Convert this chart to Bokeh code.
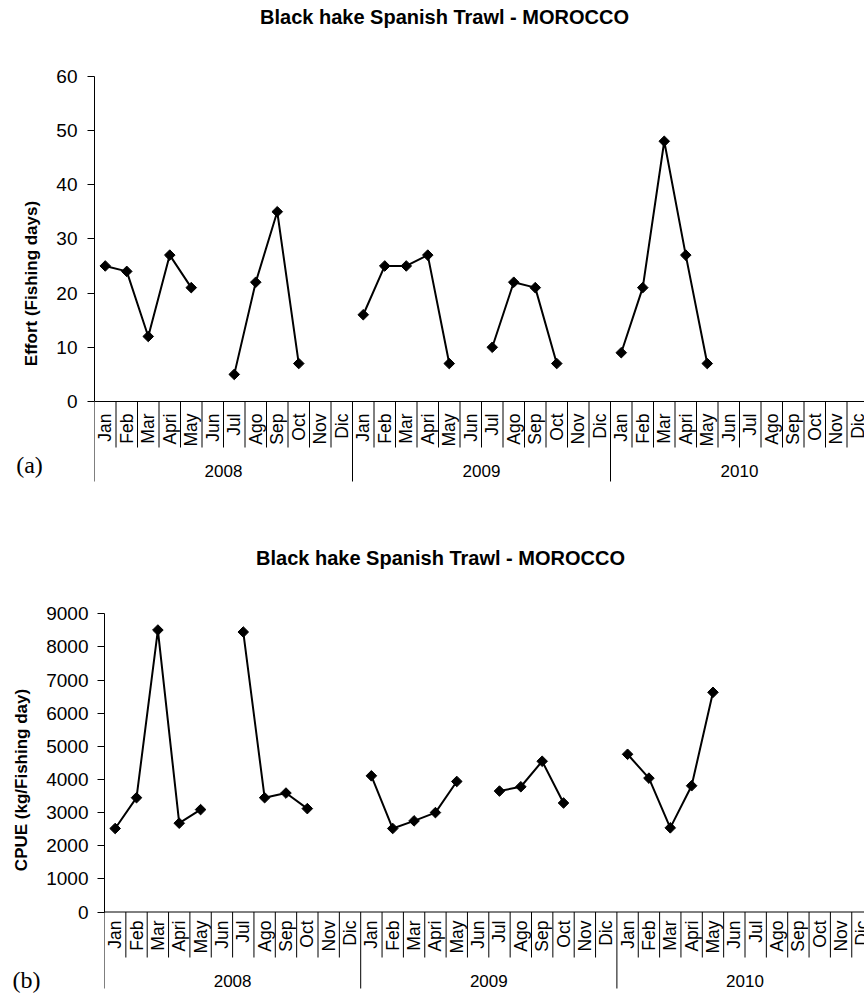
import math
import numpy as np
from bokeh.plotting import figure
from bokeh.models import FixedTicker, Label, Span
from bokeh.embed import file_html
from bokeh.resources import INLINE
from bokeh.core.properties import value

# ---------------- data ----------------
months = ["Jan", "Feb", "Mar", "Apri", "May", "Jun", "Jul", "Ago", "Sep", "Oct", "Nov", "Dic"]
years = ["2008", "2009", "2010"]
chart_title = "Black hake Spanish Trawl - MOROCCO"

effort_2008 = [25, 24, 12, 27, 21, None, 5, 22, 35, 7, None, None]
effort_2009 = [16, 25, 25, 27, 7, None, 10, 22, 21, 7, None, None]
effort_2010 = [9, 21, 48, 27, 7, None, None, None, None, None, None, None]

cpue_2008 = [2520, 3450, 8510, 2680, 3090, None, 8450, 3450, 3590, 3120, None, None]
cpue_2009 = [4110, 2520, 2750, 3000, 3940, None, 3650, 3780, 4550, 3290, None, None]
cpue_2010 = [4760, 4040, 2540, 3810, 6630, None, None, None, None, None, None, None]

effort_ticks = [0, 10, 20, 30, 40, 50, 60]
cpue_ticks = [0, 1000, 2000, 3000, 4000, 5000, 6000, 7000, 8000, 9000]

FONT = "Liberation Sans"
SERIF = "Liberation Serif"
W = 864
TOP = 70  # fixed top border holding the title and the panel tag


def make_chart(vals, ticks, ylabel, tag, H, left, axis_px, top_px, cell,
               lab_off, msep, ysep, ylab_off, title_xy, tag_xy,
               label_standoff, axis_label_standoff):
    ymax = ticks[-1]
    ppu = (axis_px - top_px) / ymax
    y_start = -(H - axis_px) / ppu
    y_end = ymax + (top_px - TOP) / ppu
    x_end = (W - left) / cell

    def ypx(px):
        return (axis_px - px) / ppu

    def xpx(px):
        return (px - left) / cell

    p = figure(width=W, height=H, x_range=(0, x_end), y_range=(y_start, y_end),
               output_backend="svg", toolbar_location=None, x_axis_location=None,
               min_border_left=left, min_border_right=0, min_border_top=TOP,
               min_border_bottom=0, background_fill_color="white",
               border_fill_color="white")
    p.outline_line_color = None
    p.grid.visible = False

    ya = p.yaxis[0]
    ya.bounds = (0, ymax)
    ya.ticker = FixedTicker(ticks=ticks)
    ya.major_tick_out = 7
    ya.major_tick_in = 0
    ya.minor_tick_line_color = None
    ya.axis_line_color = "black"
    ya.major_tick_line_color = "black"
    ya.major_label_text_font = FONT
    ya.major_label_text_font_size = "19px"
    ya.major_label_text_color = "black"
    ya.major_label_standoff = label_standoff
    ya.axis_label = ylabel
    ya.axis_label_text_font = FONT
    ya.axis_label_text_font_size = "17px"
    ya.axis_label_text_font_style = "bold"
    ya.axis_label_text_color = "black"
    ya.axis_label_standoff = axis_label_standoff

    n = len(months) * len(years)
    xs = [i + 0.5 for i in range(n)]
    ys = [np.nan if v is None else v for v in vals]

    # x axis line
    p.add_layout(Span(location=0, dimension="width", line_color="black", line_width=1))

    # separators
    x0s, y0s, x1s, y1s = [], [], [], []
    for b in range(0, n + 1):
        depth = ysep if b % 12 == 0 else msep
        x0s.append(b); x1s.append(b)
        y0s.append(0); y1s.append(ypx(axis_px + depth))
    p.segment(x0s, y0s, x1s, y1s, line_color="black", line_width=1)

    # month labels
    mlabels = [m for _ in years for m in months]
    p.text(xs, [0] * n, text=mlabels, angle=math.pi / 2, y_offset=lab_off,
           text_align="right", text_baseline="middle",
           text_font=value(FONT), text_font_size="17.5px", text_color="black")

    # year labels
    p.text([6 + 12 * k for k in range(len(years))], [0] * len(years), text=years,
           y_offset=ylab_off, text_align="center", text_baseline="middle",
           text_font=value(FONT), text_font_size="17px", text_color="black")

    # data
    p.line(xs, ys, line_color="black", line_width=2)
    p.scatter(xs, ys, marker="square", size=7.5, angle=math.pi / 4,
              fill_color="black", line_color="black")

    # title (side-panel annotation, positioned with the frame's scales)
    ttl = Label(x=xpx(title_xy[0]), y=ypx(title_xy[1]), text=chart_title,
                text_align="center", text_baseline="middle",
                text_font=FONT, text_font_size="20px", text_font_style="bold",
                text_color="black")
    p.add_layout(ttl, "above")

    # panel tag
    lab = Label(x=xpx(tag_xy[0]), y=ypx(tag_xy[1]), text=tag,
                text_align="center", text_baseline="middle",
                text_font=SERIF, text_font_size="24px", text_color="black")
    p.add_layout(lab, "above")
    return p


p1 = make_chart(effort_2008 + effort_2009 + effort_2010, effort_ticks,
                "Effort (Fishing days)", "(a)",
                H=496, left=94, axis_px=401, top_px=75.7, cell=21.5,
                lab_off=12, msep=46, ysep=80, ylab_off=69,
                title_xy=(444, 16.5), tag_xy=(29, 464),
                label_standoff=10, axis_label_standoff=12)

p2 = make_chart(cpue_2008 + cpue_2009 + cpue_2010, cpue_ticks,
                "CPUE (kg/Fishing day)", "(b)",
                H=497, left=104, axis_px=415.5, top_px=117.3, cell=21.35,
                lab_off=8.5, msep=45.5, ysep=76.5, ylab_off=68.5,
                title_xy=(440, 61.5), tag_xy=(26, 483),
                label_standoff=9, axis_label_standoff=12)

open("out.html", "w").write(file_html([p1, p2], INLINE))
